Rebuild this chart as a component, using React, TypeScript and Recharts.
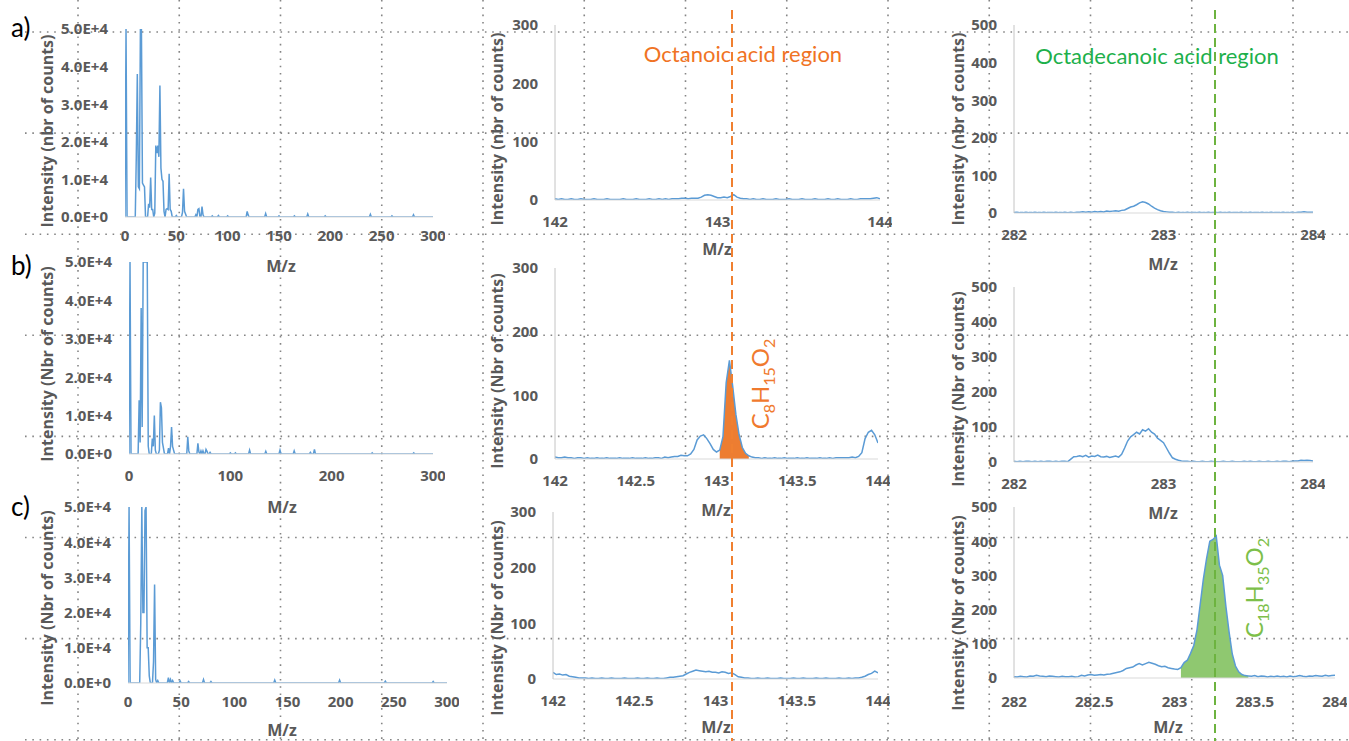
import { ComposedChart, Line, Area, XAxis, YAxis } from "recharts";

// full spectra 0–300 m/z, [mass, counts] (everything else sits on 0)
const FULL_A_PEAKS: [number, number][] = [
  [1, 50000], [11, 16000], [12, 38000], [13, 8000], [14, 7500], [15, 50000], [16, 50000],
  [17, 9000], [18, 8500], [19, 8000], [23, 3500], [24, 2500], [25, 10500], [26, 2000],
  [27, 2000], [29, 1000], [30, 19000], [31, 17000], [32, 19000], [33, 16000], [34, 35000],
  [35, 13000], [36, 10000], [37, 9500], [38, 1500], [40, 2000], [41, 2200], [42, 2000],
  [43, 11500], [44, 2000], [45, 1500], [50, 400], [56, 1200], [57, 7500], [58, 1500],
  [59, 800], [69, 600], [71, 2000], [72, 2200], [75, 2800], [76, 600], [85, 300], [91, 400],
  [100, 300], [119, 1500], [120, 500], [137, 900], [150, 300], [165, 300], [178, 800],
  [195, 300], [239, 700], [260, 300], [281, 600],
];
const FULL_B_PEAKS: [number, number][] = [
  [1, 50000], [10, 14000], [11, 3000], [12, 38000], [13, 7000], [14, 50000], [15, 50000],
  [16, 50000], [17, 50000], [18, 50000], [19, 2000], [23, 4000], [24, 2000], [25, 10000],
  [26, 1000], [30, 1000], [31, 13500], [32, 12000], [33, 3000], [34, 1500], [39, 1500],
  [41, 2000], [42, 7000], [43, 2000], [44, 1000], [58, 4500], [59, 800], [68, 2800],
  [69, 500], [71, 800], [73, 800], [76, 1200], [77, 700], [80, 400], [100, 300], [105, 300],
  [119, 1000], [135, 700], [149, 1000], [163, 800], [179, 400], [183, 1200], [240, 300],
  [281, 300],
];
const FULL_C_PEAKS: [number, number][] = [
  [1, 50000], [12, 17000], [13, 50000], [14, 20000], [15, 20000], [16, 49000], [17, 50000],
  [18, 10000], [19, 10000], [20, 2000], [24, 6000], [25, 28000], [26, 1000], [28, 700],
  [38, 1500], [40, 1000], [42, 700], [49, 600], [57, 400], [71, 1000], [78, 400], [138, 800],
  [199, 800], [242, 500], [287, 400],
];

// zoomed scans, one value every 0.02 m/z
const OCTANOIC_A = [
  2, 1, 2, 1, 1, 2, 1, 1, 2, 1,
  1, 1, 2, 1, 1, 1, 2, 1, 1, 1,
  1, 2, 1, 1, 1, 2, 1, 1, 1, 2,
  1, 1, 2, 1, 2, 1, 2, 2, 2, 3,
  3, 2, 3, 3, 3, 5, 8, 9, 8, 6,
  4, 4, 5, 4, 6, 9, 5, 3, 2, 2,
  1, 2, 1, 1, 2, 1, 1, 1, 2, 1,
  1, 1, 2, 1, 1, 1, 2, 1, 1, 1,
  2, 1, 1, 1, 2, 1, 1, 2, 1, 1,
  1, 2, 1, 1, 2, 2, 2, 2, 3, 4, 2,
];
const OCTANOIC_B = [
  3, 2, 2, 3, 2, 2, 1, 2, 2, 1,
  2, 1, 1, 2, 1, 1, 2, 1, 1, 1,
  2, 1, 1, 1, 2, 1, 1, 1, 2, 1,
  1, 2, 2, 1, 3, 2, 3, 4, 4, 6,
  5, 5, 8, 15, 30, 36, 38, 32, 24, 15,
  11, 14, 35, 120, 155, 115, 70, 38, 18, 9,
  5, 3, 2, 2, 1, 2, 1, 1, 2, 1,
  1, 2, 1, 1, 1, 2, 1, 1, 2, 1,
  1, 1, 2, 1, 1, 2, 1, 2, 2, 2,
  2, 2, 3, 2, 4, 10, 32, 42, 45, 38, 25,
];
const OCTANOIC_C = [
  12, 8, 9, 7, 8, 5, 4, 3, 2, 2,
  2, 1, 2, 1, 1, 2, 1, 1, 2, 1,
  1, 1, 2, 1, 1, 1, 2, 1, 1, 2,
  1, 1, 2, 1, 1, 2, 3, 3, 4, 5,
  6, 9, 12, 14, 16, 15, 14, 13, 14, 12,
  12, 11, 13, 12, 10, 11, 8, 4, 3, 2,
  2, 1, 1, 2, 1, 1, 2, 1, 1, 1,
  2, 1, 1, 1, 2, 1, 1, 2, 1, 1,
  1, 2, 1, 1, 2, 1, 1, 1, 2, 1,
  1, 2, 1, 2, 2, 3, 5, 8, 10, 14, 11,
];
const OCTADECANOIC_A = [
  1, 2, 1, 1, 2, 1, 1, 2, 1, 1,
  2, 1, 1, 1, 2, 1, 1, 2, 1, 2,
  1, 2, 2, 3, 2, 3, 2, 4, 3, 4,
  3, 5, 4, 5, 6, 5, 7, 8, 12, 16,
  18, 22, 27, 30, 28, 24, 18, 13, 9, 6,
  4, 3, 2, 2, 1, 2, 1, 1, 2, 1,
  1, 1, 2, 1, 1, 2, 1, 1, 1, 2,
  1, 1, 2, 1, 1, 1, 2, 1, 1, 2,
  1, 1, 1, 2, 1, 1, 2, 1, 1, 1,
  2, 1, 1, 2, 1, 2, 2, 3, 2, 2, 2,
];
const OCTADECANOIC_B = [
  2, 1, 2, 1, 2, 2, 1, 2, 1, 2,
  1, 2, 2, 1, 2, 1, 2, 2, 1, 8,
  15, 16, 18, 15, 19, 14, 17, 16, 20, 15,
  14, 16, 13, 15, 17, 14, 22, 40, 60, 72,
  78, 85, 80, 92, 88, 95, 85, 80, 68, 62,
  55, 40, 25, 12, 8, 5, 3, 2, 2, 1,
  2, 1, 1, 2, 1, 1, 2, 1, 1, 1,
  2, 1, 1, 2, 1, 1, 1, 2, 1, 2,
  1, 1, 2, 1, 1, 2, 1, 1, 2, 1,
  2, 2, 1, 2, 3, 3, 5, 4, 5, 4, 3,
];
const OCTADECANOIC_C = [
  4, 3, 5, 4, 3, 6, 5, 8, 6, 5,
  4, 6, 5, 4, 3, 5, 4, 4, 5, 3,
  4, 8, 6, 9, 10, 8, 9, 10, 9, 11,
  12, 14, 16, 18, 22, 28, 30, 32, 38, 42,
  38, 42, 46, 43, 40, 36, 33, 34, 30, 28,
  26, 25, 30, 45, 52, 72, 95, 140, 215, 290,
  350, 400, 405, 415, 330, 300, 210, 135, 70, 35,
  18, 10, 7, 6, 5, 7, 4, 6, 5, 3,
  5, 4, 6, 4, 5, 3, 6, 4, 5, 7,
  5, 4, 6, 5, 7, 6, 5, 8, 6, 7, 8,
];

const FULL_TICKS_50 = [0, 50, 100, 150, 200, 250, 300];
const FULL_TICKS_100 = [0, 100, 200, 300];
const FULL_Y_TICKS = [0, 10000, 20000, 30000, 40000, 50000];
const OCT_TICKS_1 = [142, 143, 144];
const OCT_TICKS_HALF = [142, 142.5, 143, 143.5, 144];
const OCTD_TICKS_1 = [282, 283, 284];
const OCTD_TICKS_HALF = [282, 282.5, 283, 283.5, 284];
const OCT_Y_TICKS = [0, 100, 200, 300];
const OCTD_Y_TICKS = [0, 100, 200, 300, 400, 500];

const C8_FILL: [number, number] = [143.02, 143.2];
const C18_FILL: [number, number] = [283.04, 283.46];

const LABEL_FONT = '"Open Sans", Lato, sans-serif';
const NOTE_FONT = 'Lato, "Open Sans", sans-serif';
const GREY = "#595959";
const BLUE = "#5B9BD5";
const ORANGE = "#ED7D31";
const GREEN_FILL = "#8FC870";

type Pt = { mz: number; v: number; fill?: number | null };

function fullSpectrum(peaks: [number, number][]): Pt[] {
  const lookup = new Map(peaks);
  const out: Pt[] = [];
  for (let m = 0; m <= 300; m++) out.push({ mz: m, v: lookup.get(m) ?? 0 });
  return out;
}

function scan(start: number, values: number[], fillRange?: [number, number]): Pt[] {
  return values.map((v, i) => {
    const mz = Math.round((start + i * 0.02) * 100) / 100;
    const inFill = fillRange && mz >= fillRange[0] - 1e-6 && mz <= fillRange[1] + 1e-6;
    return { mz, v, fill: fillRange ? (inFill ? v : null) : undefined };
  });
}

const sci = (v: number) => (v === 0 ? "0.0E+0" : (v / 10000).toFixed(1) + "E+4");

// chart frame around the plot area
const YW = 90;
const TOP = 12;
const RIGHT = 12;
const XH = 40;

type PanelProps = {
  plot: [number, number, number, number]; // x0, x1, y0, y1
  data: Pt[];
  xDomain: [number, number];
  xTicks: number[];
  yDomain: [number, number];
  yTicks: number[];
  yFormat?: (v: number) => string;
  xMargin?: number;
  yLine?: boolean;
  fillColor?: string;
};

function Panel({ plot, data, xDomain, xTicks, yDomain, yTicks, yFormat, xMargin = 10, yLine = true, fillColor }: PanelProps) {
  const [x0, x1, y0, y1] = plot;
  const w = x1 - x0 + YW + RIGHT;
  const h = y1 - y0 + TOP + XH;
  const tick = { fill: GREY, fontSize: 15, fontWeight: 700, fontFamily: LABEL_FONT };
  return (
    <div style={{ position: "absolute", left: x0 - YW, top: y0 - TOP, width: w, height: h }}>
      <ComposedChart width={w} height={h} data={data} margin={{ top: TOP, right: RIGHT, bottom: 0, left: 0 }}>
        <XAxis
          dataKey="mz"
          type="number"
          domain={xDomain}
          ticks={xTicks}
          interval={0}
          height={XH}
          tickLine={false}
          tickSize={6}
          tickMargin={xMargin}
          axisLine={{ stroke: "#D9D9D9" }}
          tick={tick}
          allowDataOverflow
        />
        <YAxis
          type="number"
          domain={yDomain}
          ticks={yTicks}
          interval={0}
          width={YW}
          tickLine={false}
          tickSize={6}
          tickMargin={11}
          axisLine={yLine ? { stroke: "#C4C4C4" } : false}
          tick={tick}
          tickFormatter={yFormat}
          allowDataOverflow
        />
        {fillColor && (
          <Area
            type="linear"
            dataKey="fill"
            stroke="none"
            fill={fillColor}
            fillOpacity={1}
            connectNulls={false}
            isAnimationActive={false}
          />
        )}
        <Line type="linear" dataKey="v" stroke={BLUE} strokeWidth={1.5} dot={false} isAnimationActive={false} />
      </ComposedChart>
    </div>
  );
}

const GRID_X = Array.from({ length: 13 }, (_, i) => 78 + i * 101.25);
const GRID_Y = Array.from({ length: 8 }, (_, j) => 32 + j * 101.1);

const Y_TITLES: [string, number, number][] = [
  ["Intensity (nbr of counts)", 47, 131],
  ["Intensity (Nbr of counts)", 47, 364],
  ["Intensity (Nbr of counts)", 47, 608],
  ["Intensity (nbr of counts)", 497, 129],
  ["Intensity (Nbr of counts)", 497, 371],
  ["Intensity (Nbr of counts)", 497, 618],
  ["Intensity (nbr of counts)", 958, 129],
  ["Intensity (Nbr of counts)", 958, 389],
  ["Intensity (Nbr of counts)", 958, 613],
];
const X_TITLES: [number, number][] = [
  [281, 266], [282, 507], [282, 730],
  [717, 249], [716, 510], [716, 727],
  [1163, 264], [1163, 513], [1168, 727],
];

export default function App() {
  return (
    <div style={{ position: "relative", width: 1349, height: 741, background: "#fff", overflow: "hidden", fontFamily: LABEL_FONT }}>
      <style>{"body{margin:0}"}</style>
      <svg width={1349} height={741} style={{ position: "absolute", left: 0, top: 0 }}>
        {GRID_X.map((x) => (
          <line key={"gx" + x} x1={x} x2={x} y1={0} y2={741} stroke="#858585" strokeWidth={1.6} strokeDasharray="1.6 5.7" />
        ))}
        {GRID_Y.map((y) => (
          <line key={"gy" + y} x1={25} x2={1349} y1={y} y2={y} stroke="#858585" strokeWidth={1.6} strokeDasharray="1.6 5.7" />
        ))}
      </svg>

      <Panel plot={[125, 433, 29, 217]} data={fullSpectrum(FULL_A_PEAKS)} xDomain={[0, 300]} xTicks={FULL_TICKS_50} yDomain={[0, 50000]} yTicks={FULL_Y_TICKS} yFormat={sci} xMargin={7} yLine={false} />
      <Panel plot={[129, 433, 262, 454]} data={fullSpectrum(FULL_B_PEAKS)} xDomain={[0, 300]} xTicks={FULL_TICKS_100} yDomain={[0, 50000]} yTicks={FULL_Y_TICKS} yFormat={sci} yLine={false} />
      <Panel plot={[128, 447, 507, 683]} data={fullSpectrum(FULL_C_PEAKS)} xDomain={[0, 300]} xTicks={FULL_TICKS_50} yDomain={[0, 50000]} yTicks={FULL_Y_TICKS} yFormat={sci} xMargin={7} yLine={false} />

      <Panel plot={[555, 880, 25, 200]} data={scan(142, OCTANOIC_A)} xDomain={[142, 144]} xTicks={OCT_TICKS_1} yDomain={[0, 300]} yTicks={OCT_Y_TICKS} />
      <Panel plot={[555, 878, 268, 459]} data={scan(142, OCTANOIC_B, C8_FILL)} xDomain={[142, 144]} xTicks={OCT_TICKS_HALF} yDomain={[0, 300]} yTicks={OCT_Y_TICKS} fillColor={ORANGE} />
      <Panel plot={[553, 878, 512, 679]} data={scan(142, OCTANOIC_C)} xDomain={[142, 144]} xTicks={OCT_TICKS_HALF} yDomain={[0, 300]} yTicks={OCT_Y_TICKS} />

      <Panel plot={[1014, 1313, 25, 213]} data={scan(282, OCTADECANOIC_A)} xDomain={[282, 284]} xTicks={OCTD_TICKS_1} yDomain={[0, 500]} yTicks={OCTD_Y_TICKS} />
      <Panel plot={[1014, 1313, 287, 462]} data={scan(282, OCTADECANOIC_B)} xDomain={[282, 284]} xTicks={OCTD_TICKS_1} yDomain={[0, 500]} yTicks={OCTD_Y_TICKS} />
      <Panel plot={[1014, 1335, 507, 678]} data={scan(282, OCTADECANOIC_C, C18_FILL)} xDomain={[282, 284]} xTicks={OCTD_TICKS_HALF} yDomain={[0, 500]} yTicks={OCTD_Y_TICKS} xMargin={12} fillColor={GREEN_FILL} />

      <svg width={1349} height={741} style={{ position: "absolute", left: 0, top: 0, pointerEvents: "none" }}>
        <g fontFamily={NOTE_FONT} fontSize={26} fill="#000">
          <text x={11} y={37}>a)</text>
          <text x={11} y={275}>b)</text>
          <text x={11} y={516}>c)</text>
        </g>

        {Y_TITLES.map(([t, x, y], i) => (
          <text key={"yt" + i} transform={`translate(${x},${y}) rotate(-90)`} textAnchor="middle" dominantBaseline="central" fontFamily={LABEL_FONT} fontSize={16} fontWeight={700} fill={GREY}>
            {t}
          </text>
        ))}
        {X_TITLES.map(([x, y], i) => (
          <text key={"xt" + i} x={x} y={y} textAnchor="middle" dominantBaseline="central" fontFamily={LABEL_FONT} fontSize={16} fontWeight={700} fill={GREY}>
            M/z
          </text>
        ))}

        <text x={743} y={53} textAnchor="middle" dominantBaseline="central" fontFamily={NOTE_FONT} fontSize={22} fill="#F07324">
          Octanoic acid region
        </text>
        <text x={1157} y={55} textAnchor="middle" dominantBaseline="central" fontFamily={NOTE_FONT} fontSize={22} fill="#1DB04B">
          Octadecanoic acid region
        </text>

        <text transform="translate(769,384) rotate(-90)" textAnchor="middle" fontFamily={NOTE_FONT} fontSize={24} fill="#F07A2E">
          C<tspan dy={6} fontSize={16}>8</tspan>
          <tspan dy={-6}>H</tspan>
          <tspan dy={6} fontSize={16}>15</tspan>
          <tspan dy={-6}>O</tspan>
          <tspan dy={6} fontSize={16}>2</tspan>
        </text>
        <text transform="translate(1263,588) rotate(-90)" textAnchor="middle" fontFamily={NOTE_FONT} fontSize={24} fill="#7DBF4A">
          C<tspan dy={6} fontSize={16}>18</tspan>
          <tspan dy={-6}>H</tspan>
          <tspan dy={6} fontSize={16}>35</tspan>
          <tspan dy={-6}>O</tspan>
          <tspan dy={6} fontSize={16}>2</tspan>
        </text>

        <line x1={732} x2={732} y1={10} y2={741} stroke="#F08030" strokeWidth={2} strokeDasharray="9 5" />
        <line x1={1215} x2={1215} y1={10} y2={741} stroke="#6DB33F" strokeWidth={2} strokeDasharray="9 5" />
      </svg>
    </div>
  );
}
